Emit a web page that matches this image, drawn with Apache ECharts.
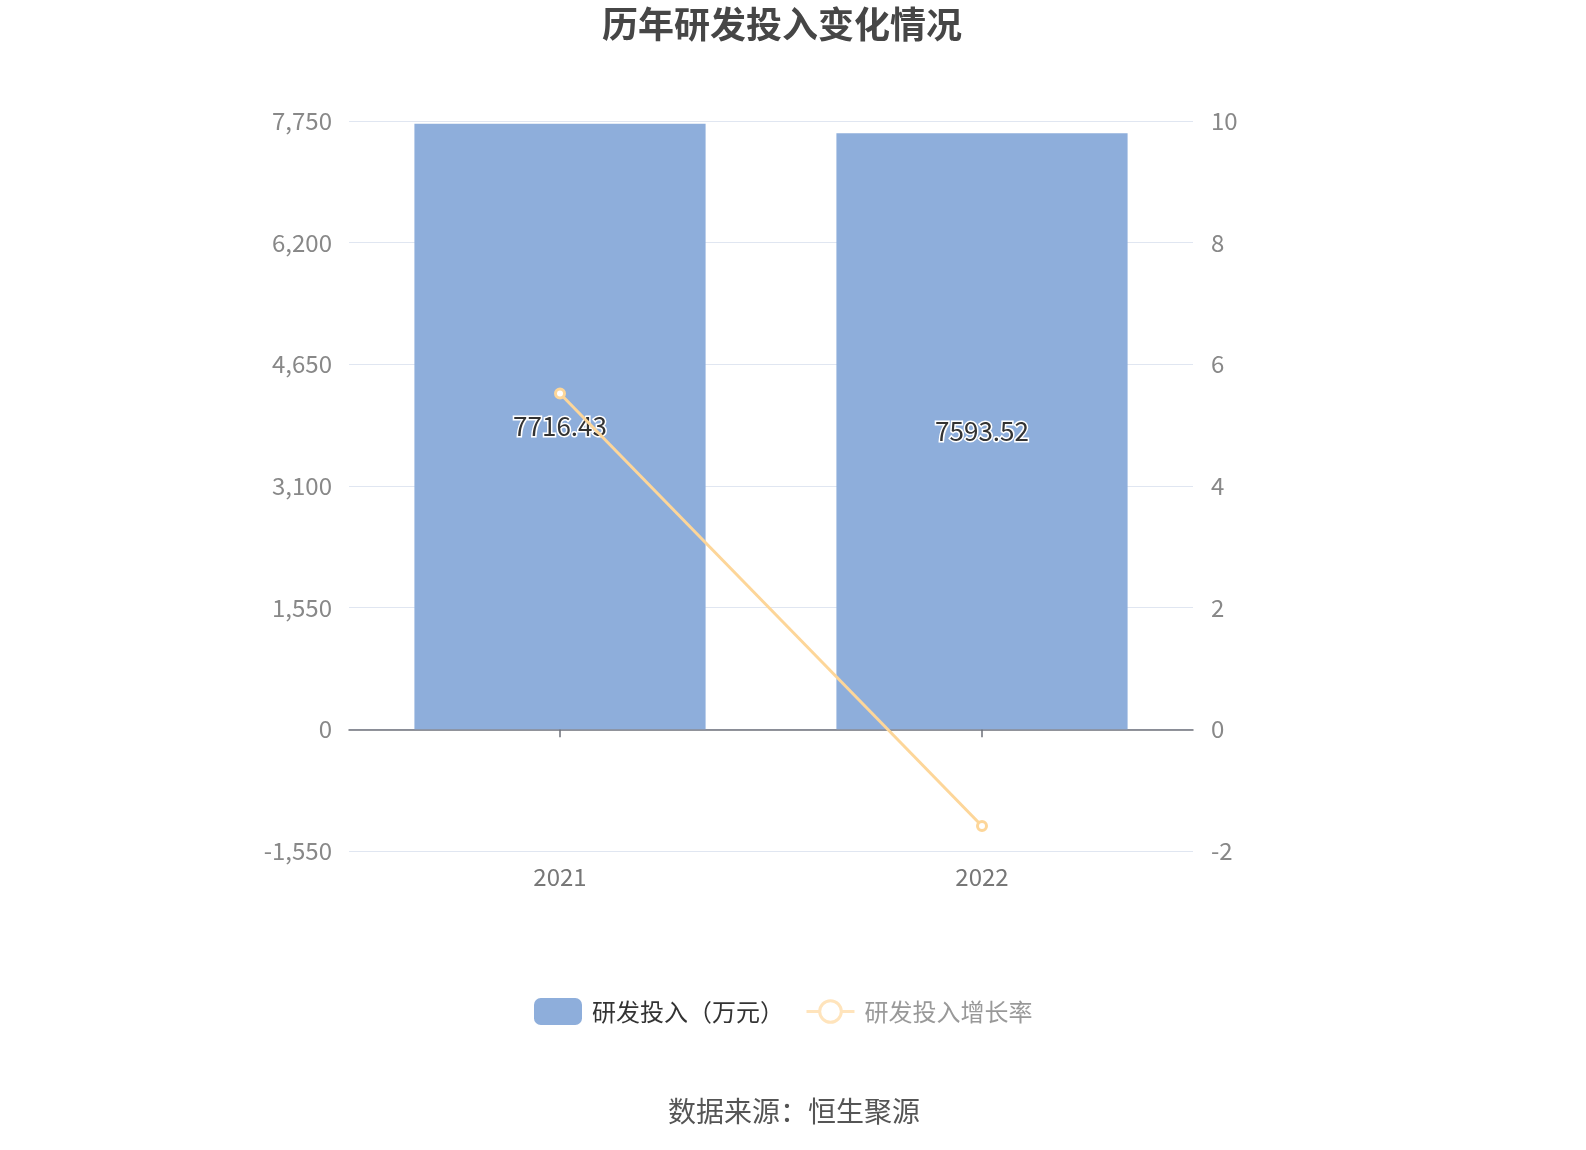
<!DOCTYPE html>
<html>
<head>
<meta charset="utf-8">
<script src="https://cdn.jsdelivr.net/npm/echarts@6/dist/echarts.min.js"></script>
<style>
  html, body { margin: 0; padding: 0; background: #fff; overflow: hidden; }
  #chart { width: 100vw; height: 100vh; }
</style>
</head>
<body>
<div id="chart"></div>
<script>
var years = ['2021', '2022'];
var rdSpend = [7716.43, 7593.52];
var rdGrowth = [5.52, -1.59];

var chart = echarts.init(document.getElementById('chart'));
var font = '"Microsoft YaHei", "Noto Sans CJK SC", sans-serif';

chart.setOption({
    animation: false,
    textStyle: { fontFamily: font },
    graphic: [{
        type: 'text', x: 782, y: 24,
        style: { text: '历年研发投入变化情况', fontSize: 36, fontWeight: 'bold', fill: '#464646', fontFamily: font, align: 'center', verticalAlign: 'middle' }
    }, {
        type: 'text', x: 794, y: 1111,
        style: { text: '数据来源：恒生聚源', fontSize: 28, fill: '#555', fontFamily: font, align: 'center', verticalAlign: 'middle' }
    }],
    legend: {
        top: 993, left: 529,
        itemWidth: 48, itemHeight: 27, itemGap: 21,
        textStyle: { fontSize: 24, color: '#333', fontFamily: font, padding: [0, 0, 0, 5] },
        data: [
            { name: '研发投入（万元）' },
            { name: '研发投入增长率', textStyle: { color: '#999' }, itemStyle: { color: '#fff', borderColor: '#ffe4bc', borderWidth: 3 }, lineStyle: { color: '#ffe4bc', width: 3 } }
        ]
    },
    grid: { left: 349, top: 121, width: 844, height: 730 },
    xAxis: {
        type: 'category', data: years,
        axisLine: { lineStyle: { color: '#6e7079', width: 1.5 } },
        axisTick: { show: true, alignWithLabel: true, length: 8, lineStyle: { color: '#6e7079', width: 1.5 } },
        axisLabel: { fontSize: 24, color: '#777', margin: 14 }
    },
    yAxis: [{
        type: 'value', min: -1550, max: 7750, interval: 1550,
        axisLabel: { fontSize: 24, color: '#888', margin: 17 },
        splitLine: { lineStyle: { color: '#e0e6f1' } }
    }, {
        type: 'value', min: -2, max: 10, interval: 2,
        axisLabel: { fontSize: 24, color: '#888', margin: 18 },
        splitLine: { show: false }
    }],
    series: [{
        name: '研发投入（万元）', type: 'bar', data: rdSpend,
        barWidth: '69%',
        itemStyle: { color: '#8eaedb' },
        label: {
            show: true, position: 'inside', fontSize: 26, color: '#333',
            textBorderColor: '#fff', textBorderWidth: 3
        }
    }, {
        name: '研发投入增长率', type: 'line', yAxisIndex: 1, data: rdGrowth,
        symbol: 'circle', symbolSize: 9,
        lineStyle: { color: '#fdd699', width: 3 },
        itemStyle: { color: '#fff', borderColor: '#fdd699', borderWidth: 3 }
    }]
});
</script>
</body>
</html>
